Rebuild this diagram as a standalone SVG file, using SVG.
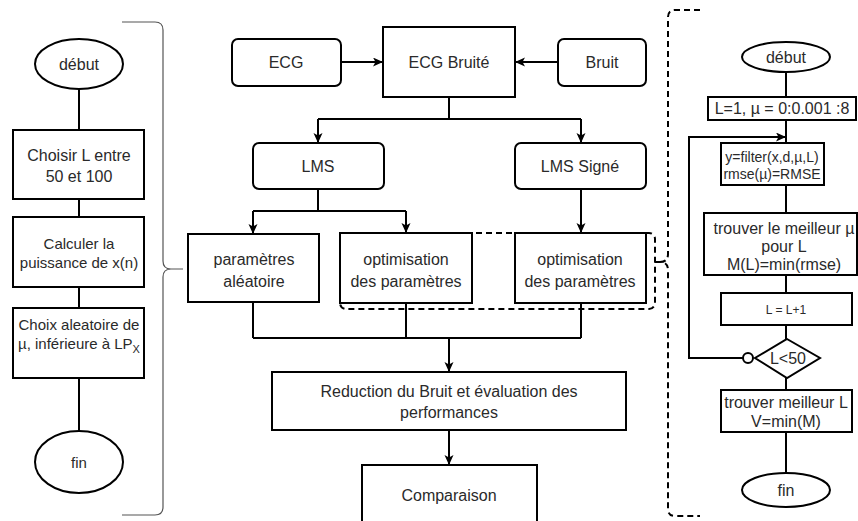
<svg xmlns="http://www.w3.org/2000/svg" width="858" height="521" viewBox="0 0 858 521">
<defs>
<marker id="arr" markerUnits="userSpaceOnUse" markerWidth="12" markerHeight="10" refX="10" refY="4.5" orient="auto">
<path d="M0,0 L10,4.5 L0,9 L2.5,4.5 z" fill="#000"/>
</marker>
</defs>
<style>
text{font-family:"Liberation Sans",Arial,sans-serif;font-size:16px;fill:#2a2a2a;text-anchor:middle}
.s15{font-size:15px}
.s14{font-size:14px}
.s12{font-size:12px}
.box{fill:#fff;stroke:#000;stroke-width:2}
.ln{fill:none;stroke:#000;stroke-width:2}
.ar{fill:none;stroke:#000;stroke-width:2;marker-end:url(#arr)}
.dash{fill:none;stroke:#000;stroke-width:2;stroke-dasharray:6 4}
.brace{fill:none;stroke:#555;stroke-width:1.2}
</style>
<rect width="858" height="521" fill="#fff"/>

<g id="connectors">
<!-- left column -->
<path class="ln" d="M79,89 V130 M79,199 V217 M79,287 V308 M79,378 V431"/>
<!-- middle -->
<path class="ar" d="M341,62 H383"/>
<path class="ar" d="M558,62 H515"/>
<path class="ln" d="M449,97 V119 M318,119 H581"/>
<path class="ar" d="M318,119 V143"/>
<path class="ar" d="M581,119 V143"/>
<path class="ln" d="M318,189 V211 M253,211 H406"/>
<path class="ar" d="M253,211 V234"/>
<path class="ar" d="M406,211 V233"/>
<path class="ar" d="M581,189 V233"/>
<path class="ln" d="M253,302 V338 M406,303 V338 M581,303 V338 M253,338 H581"/>
<path class="ar" d="M449,338 V372"/>
<path class="ar" d="M449,430 V465"/>
<!-- right column -->
<path class="ln" d="M786,72 V97 M786,120 V143 M786,185 V213 M786,275 V293 M786,325 V339 M786,378 V390 M786,432 V473"/>
<path class="ar" d="M743,358 H689 V137 H786"/>
<circle cx="748" cy="358" r="5" fill="#fff" stroke="#000" stroke-width="2"/>
<!-- dashed group -->
<rect class="dash" x="340" y="233" width="315" height="76" rx="6"/>
<path class="dash" d="M700,10 H675 Q668,10 668,17 V254 Q668,262 660,262 H655 M655,262 H660 Q668,262 668,270 V509 Q668,516 675,516 H700"/>
<!-- left brace -->
<path class="brace" d="M122,22 H155 Q163,22 163,30 V261 Q163,269 171,269 H183 M183,269 H171 Q163,269 163,277 V507 Q163,515 155,515 H122"/>
</g>

<!-- left column -->
<g id="l-debut"><ellipse class="box" cx="79" cy="64" rx="44" ry="25"/><text x="79" y="70">début</text></g>
<g id="l-choisir"><rect class="box" x="13" y="130" width="131" height="69"/><text x="79" y="161">Choisir L entre</text><text x="79" y="182">50 et 100</text></g>
<g id="l-calculer"><rect class="box" x="13" y="217" width="131" height="70"/><text class="s15" x="79" y="249">Calculer la</text><text class="s15" x="79" y="268">puissance de x(n)</text></g>
<g id="l-choix"><rect class="box" x="13" y="308" width="131" height="70"/><text class="s15" x="79" y="330">Choix aleatoire de</text><text class="s15" x="79" y="349">µ, inférieure à LP<tspan font-size="11" dy="4">X</tspan></text></g>
<g id="l-fin"><ellipse class="box" cx="79" cy="462" rx="44" ry="31"/><text class="s15" x="79" y="468">fin</text></g>

<!-- middle -->
<g id="ecg"><rect class="box" x="232" y="39" width="109" height="47" rx="6"/><text x="286" y="68">ECG</text></g>
<g id="ecg-bruite"><rect class="box" x="383" y="27" width="132" height="70"/><text x="449" y="68">ECG Bruité</text></g>
<g id="bruit"><rect class="box" x="558" y="39" width="88" height="47" rx="6"/><text x="602" y="68">Bruit</text></g>
<g id="lms"><rect class="box" x="253" y="143" width="131" height="46" rx="6"/><text x="318" y="172">LMS</text></g>
<g id="lms-signe"><rect class="box" x="515" y="143" width="131" height="46" rx="6"/><text x="580" y="172">LMS Signé</text></g>
<g id="param-alea"><rect class="box" x="188" y="234" width="131" height="68"/><text x="254" y="265">paramètres</text><text x="254" y="287">aléatoire</text></g>
<g id="optim1"><rect class="box" x="340" y="233" width="132" height="70"/><text x="406" y="265">optimisation</text><text x="406" y="287">des paramètres</text></g>
<g id="optim2"><rect class="box" x="515" y="233" width="131" height="70"/><text x="580" y="265">optimisation</text><text x="580" y="287">des paramètres</text></g>
<g id="reduction"><rect class="box" x="272" y="372" width="354" height="58"/><text x="449" y="397">Reduction du Bruit et évaluation des</text><text x="449" y="418">performances</text></g>
<g id="comparaison"><rect class="box" x="362" y="465" width="175" height="70"/><text x="449" y="501">Comparaison</text></g>

<!-- right column -->
<g id="r-debut"><ellipse class="box" cx="786" cy="57" rx="44" ry="15"/><text x="786" y="63">début</text></g>
<g id="r-init"><rect class="box" x="708" y="97" width="148" height="23"/><text x="782" y="114">L=1, µ = 0:0.001 :8</text></g>
<g id="r-filter"><rect class="box" x="721" y="143" width="103" height="42"/><text class="s14" x="772" y="162">y=filter(x,d,µ,L)</text><text class="s14" x="772" y="179">rmse(µ)=RMSE</text></g>
<g id="r-best-mu"><rect class="box" x="704" y="213" width="153" height="62"/><text x="784" y="234">trouver le meilleur µ</text><text x="784" y="252">pour L</text><text x="784" y="270">M(L)=min(rmse)</text></g>
<g id="r-inc"><rect class="box" x="721" y="293" width="131" height="32"/><text class="s12" x="786" y="314">L = L+1</text></g>
<g id="r-cond"><path class="box" d="M787,339 L820,358 L787,378 L755,358 z"/><text x="788" y="364">L&lt;50</text></g>
<g id="r-best-l"><rect class="box" x="721" y="390" width="131" height="42"/><text x="786" y="408">trouver meilleur L</text><text x="786" y="427">V=min(M)</text></g>
<g id="r-fin"><ellipse class="box" cx="786" cy="490" rx="44" ry="17"/><text x="786" y="496">fin</text></g>
</svg>
